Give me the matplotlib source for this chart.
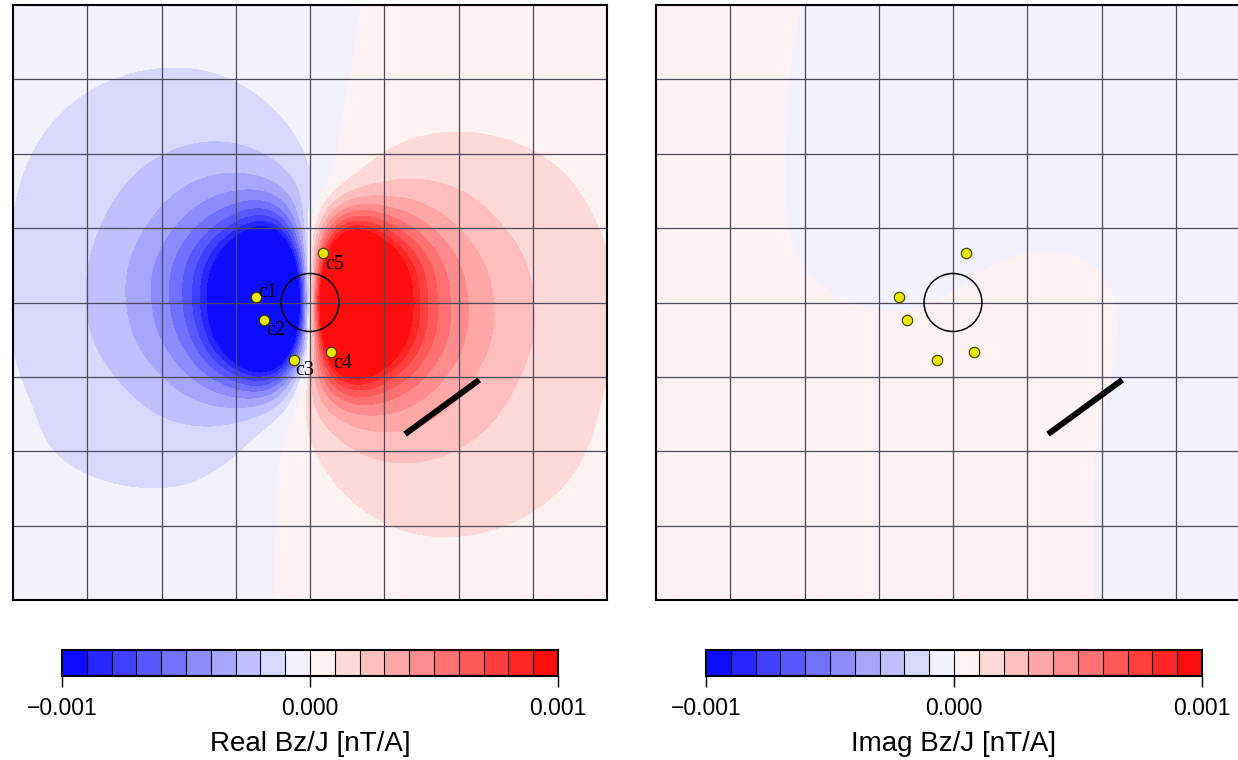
import numpy as np
import matplotlib
matplotlib.use('Agg')
import matplotlib.pyplot as plt
from matplotlib.colors import ListedColormap, BoundaryNorm
from matplotlib.patches import Circle

plt.rcParams['font.family'] = ['Liberation Sans', 'DejaVu Sans']

# real part of Bz/J, in units of 1e-4 nT/A, nodes every 0.5 (x: -4..4, rows: y = 4 .. -4)
real_bz = [
    [-0.55, -0.60, -0.63, -0.65, -0.64, -0.60, -0.51, -0.40, -0.23, -0.06, 0.09, 0.22, 0.31, 0.36, 0.40, 0.40, 0.38],
    [-0.63, -0.71, -0.76, -0.81, -0.82, -0.80, -0.70, -0.52, -0.30, -0.05, 0.16, 0.32, 0.44, 0.49, 0.50, 0.50, 0.47],
    [-0.73, -0.82, -0.93, -1.02, -1.08, -1.08, -0.97, -0.73, -0.39, -0.02, 0.30, 0.52, 0.63, 0.67, 0.65, 0.61, 0.56],
    [-0.82, -0.96, -1.13, -1.29, -1.45, -1.52, -1.42, -1.09, -0.54, 0.07, 0.50, 0.72, 0.80, 0.80, 0.75, 0.68, 0.62],
    [-0.90, -1.10, -1.36, -1.64, -1.95, -2.21, -2.25, -1.80, -0.82, 0.31, 1.00, 1.28, 1.30, 1.18, 1.02, 0.87, 0.76],
    [-0.93, -1.22, -1.58, -2.03, -2.63, -3.33, -3.83, -3.39, -1.37, 1.04, 2.23, 2.32, 2.01, 1.65, 1.33, 1.05, 0.85],
    [-0.96, -1.30, -1.78, -2.41, -3.40, -5.00, -7.20, -10.0, -0.30, 9.50, 6.50, 4.30, 2.85, 2.10, 1.58, 1.20, 0.92],
    [-0.97, -1.40, -1.95, -2.85, -4.30, -7.00, -13.0, -25.0, 0.00, 25.0, 13.0, 7.00, 4.00, 2.70, 1.90, 1.38, 0.96],
    [-0.96, -1.38, -2.00, -2.90, -4.40, -7.20, -15.0, -40.0, 0.00, 40.0, 15.0, 7.20, 4.40, 2.90, 2.00, 1.38, 0.96],
    [-0.95, -1.35, -1.90, -2.65, -3.95, -6.30, -13.0, -25.0, 0.50, 25.0, 13.0, 7.10, 4.30, 2.85, 2.00, 1.45, 0.97],
    [-0.92, -1.20, -1.58, -2.10, -2.85, -4.20, -6.20, -8.00, 2.50, 10.0, 7.50, 5.00, 3.40, 2.41, 1.78, 1.32, 0.95],
    [-0.86, -1.07, -1.33, -1.65, -2.01, -2.32, -2.23, -1.04, 1.37, 3.39, 3.83, 3.33, 2.63, 2.03, 1.58, 1.22, 0.90],
    [-0.85, -1.00, -1.15, -1.25, -1.37, -1.37, -1.07, -0.15, 0.82, 1.80, 2.25, 2.21, 1.95, 1.64, 1.36, 1.10, 0.88],
    [-0.70, -0.82, -0.92, -1.00, -1.02, -0.95, -0.60, -0.10, 0.54, 1.09, 1.42, 1.52, 1.45, 1.29, 1.13, 0.96, 0.82],
    [-0.56, -0.61, -0.65, -0.67, -0.63, -0.52, -0.30, -0.06, 0.39, 0.73, 0.97, 1.08, 1.08, 1.02, 0.93, 0.82, 0.73],
    [-0.47, -0.50, -0.50, -0.49, -0.44, -0.32, -0.18, -0.04, 0.30, 0.52, 0.70, 0.80, 0.82, 0.81, 0.76, 0.71, 0.63],
    [-0.38, -0.40, -0.40, -0.36, -0.31, -0.22, -0.12, -0.03, 0.23, 0.40, 0.51, 0.60, 0.64, 0.65, 0.63, 0.60, 0.55],
]

# imaginary part, same units, nodes every 1 (x: -4..4, rows: y = 4 .. -4)
imag_bz = [
    [0.5, 0.5, 0.0, -0.5, -0.5, -0.5, -0.5, -0.5, -0.5],
    [0.5, 0.5, -0.2, -0.5, -0.5, -0.5, -0.5, -0.5, -0.5],
    [0.5, 0.5, -0.2, -0.5, -0.5, -0.5, -0.5, -0.5, -0.5],
    [0.5, 0.4, -0.2, -0.4, -0.2, -0.1, -0.1, -0.4, -0.5],
    [0.5, 0.4, 0.1, -0.1, 0.0, 0.3, 0.2, -0.4, -0.5],
    [0.5, 0.5, 0.4, 0.3, 0.3, 0.4, 0.1, -0.4, -0.5],
    [0.5, 0.5, 0.5, 0.5, 0.5, 0.4, -0.05, -0.5, -0.5],
    [0.5, 0.5, 0.5, 0.5, 0.5, 0.4, -0.05, -0.5, -0.5],
    [0.5, 0.5, 0.5, 0.5, 0.5, 0.4, -0.05, -0.5, -0.5],
]

station_names = ['c1', 'c2', 'c3', 'c4', 'c5']
station_x = [-0.73, -0.62, -0.22, 0.28, 0.18]
station_y = [0.08, -0.23, -0.77, -0.67, 0.66]

loop_radius = 0.39
profile_x = [1.28, 2.28]
profile_y = [-1.77, -1.04]

cbar_ticks = [-0.001, 0.0, 0.001]
cbar_ticklabels = ['\u22120.001', '0.000', '0.001']

# 20 discrete levels, blue - white - red
levels = np.linspace(-0.001, 0.001, 21)
cmap = ListedColormap(plt.cm.bwr((np.arange(20) + 0.5) / 20))
norm = BoundaryNorm(levels, cmap.N)

fig = plt.figure(figsize=(12.38, 7.6), dpi=100)
W, H = 1238.0, 760.0


def panel(left, cleft, field, step, label, with_names):
    ax = fig.add_axes([left / W, 160 / H, 594 / W, 595 / H])
    n = len(field)
    half = (n - 1) * step / 2 + step / 2
    im = ax.imshow(np.array(field) * 1e-4, cmap=cmap, norm=norm,
                   extent=[-half, half, -half, half], origin='upper',
                   interpolation='bicubic', interpolation_stage='data', aspect='auto')
    ax.set_xlim(-4, 4)
    ax.set_ylim(-4, 4)
    ax.set_xticks(np.arange(-3, 4))
    ax.set_yticks(np.arange(-3, 4))
    ax.grid(True, color='#4a4a58', lw=0.9)
    ax.tick_params(length=0, labelbottom=False, labelleft=False)
    for s in ax.spines.values():
        s.set_linewidth(1.5)

    ax.add_patch(Circle((0, 0), loop_radius, fill=False, ec='black', lw=1.1, zorder=4))
    ax.plot(profile_x, profile_y, color='black', lw=4.3, solid_capstyle='butt', zorder=4)
    ax.plot(station_x, station_y, 'o', ms=7.5, mfc='#e8e800', mec='#3a3a00', mew=0.8, zorder=5)
    if with_names:
        for name, x, y in zip(station_names, station_x, station_y):
            dy = 0 if name == 'c1' else -11
            ax.annotate(name, (x, y), xytext=(1.5, dy), textcoords='offset points',
                        ha='left', va='baseline', fontsize=14.5,
                        family=['Liberation Serif', 'DejaVu Serif'], zorder=6)

    cax = fig.add_axes([cleft / W, (H - 676) / H, 496 / W, 26 / H])
    cb = fig.colorbar(im, cax=cax, orientation='horizontal', drawedges=True, ticks=cbar_ticks)
    cb.ax.set_xticklabels(cbar_ticklabels)
    cb.outline.set_linewidth(1.5)
    cb.dividers.set_linewidth(0.8)
    cb.ax.tick_params(length=8, width=1, labelsize=16.5, pad=7)
    cb.ax.minorticks_off()
    cb.set_label(label, fontsize=20, labelpad=8)
    return ax


panel(13, 62, real_bz, 0.5, 'Real Bz/J [nT/A]', True)
panel(656, 706, imag_bz, 1.0, 'Imag Bz/J [nT/A]', False)

fig.savefig('out.png', dpi=100)
